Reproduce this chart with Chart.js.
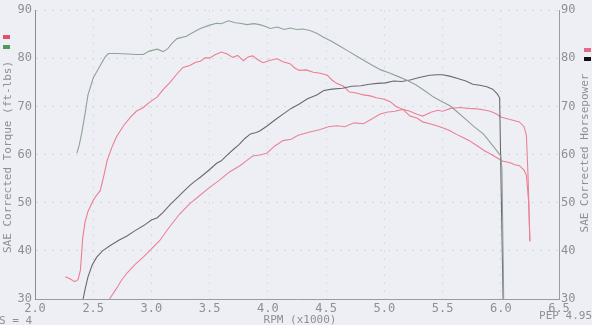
<!DOCTYPE html>
<html><head><meta charset="utf-8">
<script src="https://cdn.jsdelivr.net/npm/chart.js@4/dist/chart.umd.min.js"></script>
<style>html,body{margin:0;padding:0;background:#eeeff4;}#wrap{width:592px;height:325px;}</style>
</head><body><div id="wrap"><canvas id="c" width="592" height="325"></canvas></div>
<script>
const xTicks = [2.0,2.5,3.0,3.5,4.0,4.5,5.0,5.5,6.0,6.5];
const yTicks = [30,40,50,60,70,80,90];

const redTorqueRpm = [2.26,2.30,2.34,2.37,2.39,2.41,2.43,2.455,2.50,2.53,2.56,2.59,2.62,2.66,2.70,2.76,2.82,2.87,2.93,2.98,3.05,3.10,3.16,3.22,3.27,3.33,3.38,3.42,3.46,3.50,3.55,3.60,3.65,3.70,3.74,3.79,3.83,3.87,3.92,3.96,4.02,4.08,4.13,4.19,4.23,4.27,4.33,4.39,4.45,4.51,4.55,4.59,4.65,4.70,4.76,4.82,4.88,4.93,5.00,5.05,5.10,5.16,5.22,5.28,5.33,5.39,5.45,5.50,5.56,5.62,5.68,5.73,5.80,5.86,5.92,5.97,6.02,6.08,6.12,6.16,6.20,6.22,6.24,6.25];
const redTorqueVal = [34.6,34.2,33.6,34.0,36.0,42.7,46,48.2,50.5,51.6,52.5,55.5,58.8,61.5,63.7,66,67.8,69,69.8,70.8,72,73.5,75,76.8,78.1,78.5,79.2,79.4,80.1,80.1,80.8,81.3,80.9,80.2,80.6,79.5,80.3,80.5,79.6,79.1,79.6,79.9,79.3,78.9,78.0,77.5,77.6,77.1,76.9,76.5,75.5,74.8,74.2,73.0,72.8,72.4,72.2,71.8,71.5,71.0,70.0,69.4,68.0,67.6,66.8,66.4,66.0,65.6,65.0,64.2,63.5,62.9,61.8,60.8,60.0,59.3,58.6,58.3,57.9,57.7,56.8,55.7,50,42];

const greenTorqueRpm = [2.36,2.38,2.40,2.43,2.455,2.50,2.56,2.60,2.63,2.70,2.80,2.87,2.93,2.98,3.05,3.10,3.14,3.18,3.22,3.30,3.36,3.42,3.50,3.56,3.60,3.66,3.72,3.76,3.82,3.88,3.93,3.98,4.02,4.08,4.14,4.19,4.25,4.30,4.36,4.42,4.47,4.55,4.62,4.69,4.76,4.83,4.90,4.97,5.05,5.12,5.19,5.27,5.35,5.42,5.48,5.56,5.63,5.70,5.77,5.85,5.90,5.95,6.00,6.01,6.025];
const greenTorqueVal = [60.3,62,64.3,68.5,72.4,75.9,78.5,80.2,81.0,81.0,80.9,80.8,80.8,81.5,81.9,81.4,82.0,83.2,84.1,84.6,85.4,86.2,86.9,87.3,87.2,87.8,87.4,87.3,87.0,87.2,87.0,86.6,86.2,86.5,86.0,86.3,86.0,86.1,85.8,85.2,84.5,83.5,82.5,81.5,80.5,79.5,78.5,77.6,76.9,76.2,75.5,74.5,73.2,72.0,71.2,70.2,68.8,67.3,65.8,64.3,62.8,61.3,59.7,57,30];

const redHpRpm = [2.64,2.70,2.74,2.79,2.86,2.93,3.00,3.07,3.15,3.24,3.33,3.42,3.50,3.59,3.67,3.76,3.82,3.87,3.93,3.99,4.06,4.13,4.20,4.26,4.36,4.45,4.52,4.59,4.66,4.74,4.82,4.90,4.96,5.02,5.09,5.16,5.22,5.28,5.33,5.40,5.46,5.50,5.57,5.65,5.72,5.80,5.87,5.91,5.96,6.00,6.08,6.16,6.20,6.22,6.235,6.25];
const redHpVal = [30,32.2,33.8,35.4,37.2,38.7,40.4,42.1,44.8,47.6,49.8,51.6,53.2,54.8,56.4,57.7,58.8,59.7,59.9,60.3,61.8,62.9,63.2,64.0,64.7,65.2,65.8,66.0,65.8,66.6,66.4,67.5,68.4,68.8,69.0,69.4,69.0,68.4,68.0,68.8,69.2,69.0,69.6,69.8,69.6,69.5,69.2,69.0,68.5,67.8,67.3,66.8,65.8,64,55,42];

const darkHpRpm = [2.41,2.43,2.455,2.49,2.53,2.58,2.64,2.72,2.79,2.86,2.93,3.00,3.05,3.10,3.16,3.22,3.27,3.33,3.38,3.42,3.50,3.56,3.60,3.65,3.70,3.75,3.80,3.85,3.90,3.93,3.99,4.06,4.13,4.20,4.27,4.34,4.42,4.48,4.55,4.64,4.72,4.80,4.87,4.94,5.01,5.08,5.15,5.22,5.30,5.39,5.45,5.50,5.56,5.63,5.70,5.76,5.82,5.88,5.93,5.97,5.99,6.02];
const darkHpVal = [29.6,32,34.6,37,38.7,40.0,41.0,42.2,43.1,44.2,45.2,46.4,46.9,48.0,49.6,51.0,52.2,53.6,54.6,55.3,56.9,58.2,58.7,59.9,61.0,62.0,63.3,64.3,64.6,64.9,65.9,67.2,68.4,69.6,70.5,71.6,72.4,73.3,73.6,73.8,74.2,74.3,74.6,74.8,74.9,75.3,75.2,75.5,76.0,76.5,76.6,76.6,76.3,75.8,75.3,74.6,74.4,74.1,73.6,72.6,71.8,30];

const pts = (xs, ys) => xs.map((x, i) => ({x: x, y: ys[i]}));
const txtColor = '#8e8f93';
const mono = '"DejaVu Sans Mono", "Liberation Mono", monospace';
const gridColor = 'rgba(205,208,218,0.7)';

const deco = {
  id: 'deco',
  beforeDraw(chart) {
    const ctx = chart.ctx;
    ctx.save();
    ctx.fillStyle = '#eeeff4';
    ctx.fillRect(0, 0, chart.width, chart.height);
    ctx.restore();
  },
  afterDraw(chart) {
    const ctx = chart.ctx;
    const a = chart.chartArea;
    ctx.save();
    ctx.fillStyle = txtColor;
    ctx.font = '11px ' + mono;
    ctx.textBaseline = 'middle';
    ctx.save();
    ctx.translate(8, 157);
    ctx.rotate(-Math.PI / 2);
    ctx.textAlign = 'center';
    ctx.fillText('SAE Corrected Torque (ft-lbs)', 0, 0);
    ctx.restore();
    ctx.save();
    ctx.translate(585, 153);
    ctx.rotate(-Math.PI / 2);
    ctx.textAlign = 'center';
    ctx.fillText('SAE Corrected Horsepower', 0, 0);
    ctx.restore();
    ctx.textAlign = 'center';
    ctx.fillText('RPM (x1000)', (a.left + a.right) / 2 + 3, 320);
    ctx.textAlign = 'left';
    ctx.fillText('S = 4', -1, 321);
    ctx.textAlign = 'right';
    ctx.fillText('PEP 4.95', 592, 316);
    ctx.fillStyle = '#e2506c'; ctx.fillRect(3, 35, 7, 4);
    ctx.fillStyle = '#4f9a5a'; ctx.fillRect(3, 45, 7, 4);
    ctx.fillStyle = '#e56a8a'; ctx.fillRect(584, 48, 7, 4);
    ctx.fillStyle = '#111111'; ctx.fillRect(584, 57, 7, 4);
    ctx.restore();
  }
};

new Chart(document.getElementById('c'), {
  type: 'line',
  data: {
    datasets: [
      {label: 'Torque A', data: pts(greenTorqueRpm, greenTorqueVal), borderColor: '#8fa394', yAxisID: 'y'},
      {label: 'HP B', data: pts(darkHpRpm, darkHpVal), borderColor: '#6a6a6e', yAxisID: 'y2'},
      {label: 'Torque B', data: pts(redTorqueRpm, redTorqueVal), borderColor: '#ec7d90', yAxisID: 'y'},
      {label: 'HP A', data: pts(redHpRpm, redHpVal), borderColor: '#ea8398', yAxisID: 'y2'}
    ]
  },
  options: {
    responsive: false,
    animation: false,
    layout: {padding: {top: 3, left: 0, right: 0, bottom: 0}},
    elements: {point: {radius: 0}, line: {borderWidth: 1.1, tension: 0}},
    plugins: {legend: {display: false}, tooltip: {enabled: false}},
    scales: {
      x: {
        type: 'linear', min: 2.0, max: 6.5,
        afterBuildTicks: s => { s.ticks = xTicks.map(v => ({value: v})); },
        afterFit: s => { s.height = 26; },
        ticks: {color: txtColor, font: {family: mono, size: 12}, padding: 3, maxRotation: 0,
                callback: v => Number(v).toFixed(1)},
        grid: {color: gridColor, drawTicks: false, tickLength: 0},
        border: {color: '#9a9ba0', width: 1, dash: [2, 6]}
      },
      y: {
        position: 'left', min: 30, max: 90,
        afterBuildTicks: s => { s.ticks = yTicks.map(v => ({value: v})); },
        afterFit: s => { s.width = 35; },
        ticks: {color: txtColor, font: {family: mono, size: 12}, padding: 3},
        grid: {color: gridColor, drawTicks: false},
        border: {color: '#8a8b8f', width: 1, dash: [2, 6]}
      },
      y2: {
        position: 'right', min: 30, max: 90,
        afterBuildTicks: s => { s.ticks = yTicks.map(v => ({value: v})); },
        afterFit: s => { s.width = 33; },
        ticks: {color: txtColor, font: {family: mono, size: 12}, padding: 2},
        grid: {drawOnChartArea: false, drawTicks: false},
        border: {color: '#9a9ba0', width: 1}
      }
    }
  },
  plugins: [deco]
});
</script>
</body></html>
